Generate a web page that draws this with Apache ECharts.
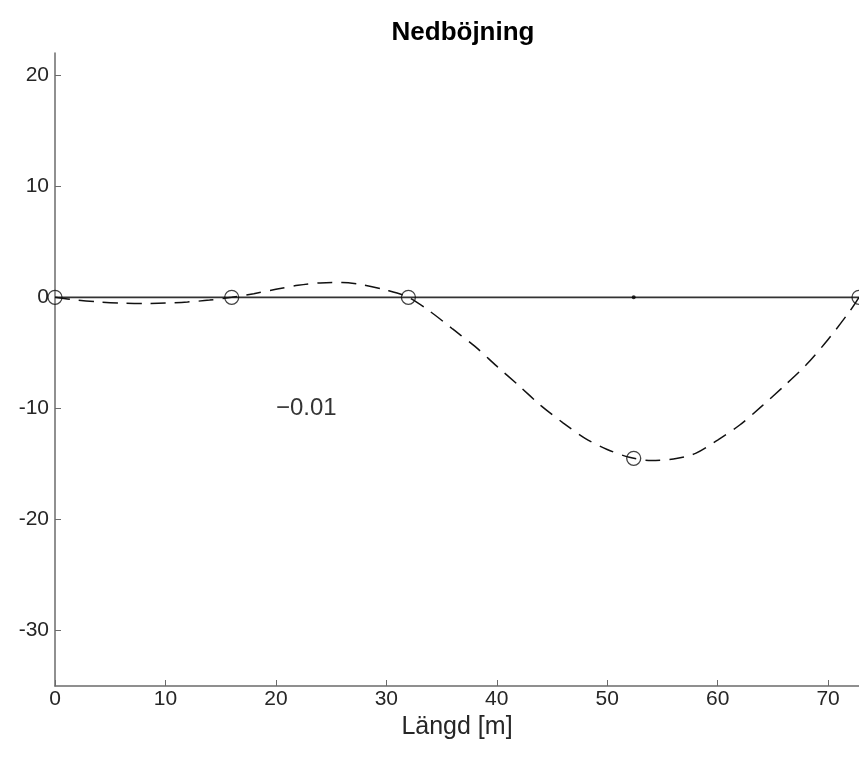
<!DOCTYPE html>
<html>
<head>
<meta charset="utf-8">
<script src="https://cdn.jsdelivr.net/npm/echarts@6/dist/echarts.min.js"></script>
<style>
html,body{margin:0;padding:0;background:#fff;}
#c{width:859px;height:765px;}
</style>
</head>
<body>
<div id="c"></div>
<script>
// ---- data ----
const titleText = 'Nedböjning';
const xLabel = 'Längd [m]';
const xTicks = [0, 10, 20, 30, 40, 50, 60, 70];
const yTicks = [-30, -20, -10, 0, 10, 20];
const xRange = [0, 72.8];
const yRange = [-35, 22];

// deflection curve (dashed)
const curveX = [0, 2, 4, 6, 8, 10, 12, 14, 16, 18, 20, 22, 24, 26, 28, 30, 32,
  34, 36, 38, 40, 42, 44, 46, 48, 50, 52, 54, 56, 58, 60, 62, 64, 66, 68, 70, 72, 72.8];
const curveY = [0, -0.25, -0.42, -0.52, -0.55, -0.52, -0.42, -0.25, 0, 0.33, 0.72, 1.08, 1.3, 1.33, 1.1, 0.65, 0,
  -1.3, -2.85, -4.4, -6.2, -7.95, -9.75, -11.3, -12.7, -13.7, -14.4, -14.7, -14.56, -14.05, -12.85, -11.5, -9.8, -8.0, -6.1, -3.8, -1.2, 0];

// beam (solid)
const beamX = [0, 72.8];
const beamY = [0, 0];

// circle markers
const nodeX = [0, 16, 32, 52.4, 72.8];
const nodeY = [0, 0, 0, -14.5, 0];

// small dot
const dotX = [52.4];
const dotY = [0];

// annotation
const noteX = 20;
const noteY = -10;
const noteText = '\u22120.01';

const zip = (a, b) => a.map((v, i) => [v, b[i]]);

const font = '"Liberation Sans", Arial, Helvetica, sans-serif';
const axisCol = '#6b6b6b';

const chart = echarts.init(document.getElementById('c'), null, {renderer: 'canvas'});
chart.setOption({
  animation: false,
  backgroundColor: '#fff',
  title: {
    text: titleText,
    left: 458,
    top: 15,
    textAlign: 'center',
    textStyle: {fontFamily: font, fontWeight: 'bold', fontSize: 26, color: '#000'}
  },
  grid: {left: 55, right: 0, top: 53, bottom: 79, containLabel: false},
  xAxis: {
    type: 'value',
    min: xRange[0], max: xRange[1],
    name: xLabel,
    nameLocation: 'middle',
    nameGap: 21,
    nameTextStyle: {fontFamily: font, fontSize: 25, color: '#262626'},
    axisLine: {onZero: false, lineStyle: {color: axisCol, width: 1.5}},
    axisTick: {inside: true, length: 6, lineStyle: {color: axisCol, width: 1}, customValues: xTicks},
    axisLabel: {fontFamily: font, fontSize: 21, color: '#262626', margin: 3, customValues: xTicks},
    splitLine: {show: false}
  },
  yAxis: {
    type: 'value',
    min: yRange[0], max: yRange[1],
    axisLine: {onZero: false, lineStyle: {color: axisCol, width: 1.5}},
    axisTick: {inside: true, length: 6, lineStyle: {color: axisCol, width: 1}, customValues: yTicks},
    axisLabel: {fontFamily: font, fontSize: 21, color: '#262626', margin: 6, customValues: yTicks},
    splitLine: {show: false}
  },
  series: [
    {
      type: 'line',
      data: zip(beamX, beamY),
      symbol: 'none',
      lineStyle: {color: '#333', width: 1.8},
      z: 2
    },
    {
      type: 'line',
      data: zip(curveX, curveY),
      symbol: 'none',
      smooth: 0.3,
      lineStyle: {color: '#111', width: 1.5, type: [15, 9]},
      z: 3
    },
    {
      type: 'scatter',
      data: zip(nodeX, nodeY),
      symbol: 'circle',
      symbolSize: 14,
      itemStyle: {color: 'rgba(0,0,0,0)', borderColor: '#111', borderWidth: 1.3},
      z: 4
    },
    {
      type: 'scatter',
      data: zip(dotX, dotY),
      symbol: 'circle',
      symbolSize: 4,
      itemStyle: {color: '#000'},
      z: 4
    },
    {
      type: 'scatter',
      data: [[noteX, noteY]],
      symbolSize: 0,
      label: {
        show: true,
        position: 'right',
        distance: 0,
        formatter: noteText,
        fontFamily: font,
        fontSize: 24,
        color: '#000'
      },
      z: 5
    }
  ]
});
</script>
</body>
</html>
